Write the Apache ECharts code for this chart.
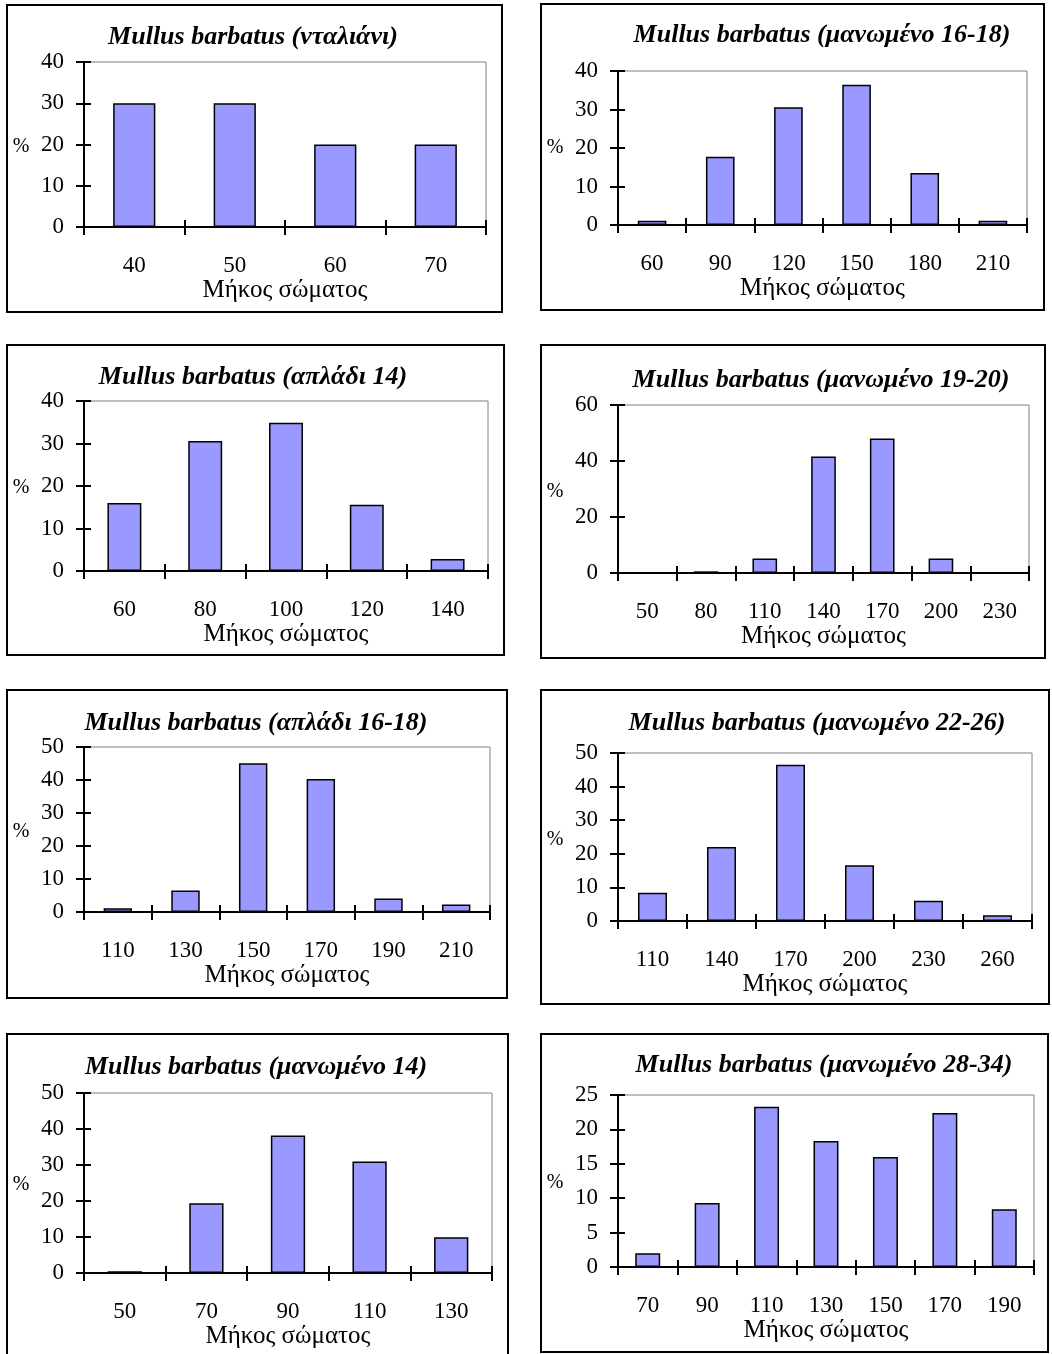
<!DOCTYPE html>
<html><head><meta charset="utf-8">
<script src="https://cdn.jsdelivr.net/npm/echarts@6/dist/echarts.min.js"></script>
<style>html,body{margin:0;padding:0;background:#fff}#c{width:1052px;height:1354px}</style>
</head><body><div id="c"></div>
<script>
// ---- data ----
const titles = [
  'Mullus barbatus (νταλιάνι)',
  'Mullus barbatus (μανωμένο 16-18)',
  'Mullus barbatus (απλάδι 14)',
  'Mullus barbatus (μανωμένο 19-20)',
  'Mullus barbatus (απλάδι 16-18)',
  'Mullus barbatus (μανωμένο 22-26)',
  'Mullus barbatus (μανωμένο 14)',
  'Mullus barbatus (μανωμένο 28-34)'
];
const xName = 'Μήκος σώματος';
const yName = '%';

const cats1 = ['40','50','60','70'];
const vals1 = [30, 30, 20, 20];
const cats2 = ['60','90','120','150','180','210'];
const vals2 = [1.1, 17.7, 30.6, 36.4, 13.5, 1.1];
const cats3 = ['60','80','100','120','140'];
const vals3 = [16.0, 30.6, 34.9, 15.6, 2.8];
const cats4 = ['50','80','110','140','170','200','230'];
const vals4 = [0, 0.6, 5.2, 41.6, 48.0, 5.2, 0];
const cats5 = ['110','130','150','170','190','210'];
const vals5 = [1.1, 6.5, 45.1, 40.3, 4.1, 2.3];
const cats6 = ['110','140','170','200','230','260'];
const vals6 = [8.4, 22.0, 46.5, 16.6, 6.0, 1.7];
const cats7 = ['50','70','90','110','130'];
const vals7 = [0.5, 19.4, 38.2, 31.0, 9.9];
const cats8 = ['70','90','110','130','150','170','190'];
const vals8 = [2.0, 9.3, 23.3, 18.3, 16.0, 22.4, 8.4];

const yMaxes = [40, 40, 40, 60, 50, 50, 50, 25];
const yIntervals = [10, 10, 10, 20, 10, 10, 10, 5];

// ---- layout (positions / sizes) ----
const cats = [cats1,cats2,cats3,cats4,cats5,cats6,cats7,cats8];
const vals = [vals1,vals2,vals3,vals4,vals5,vals6,vals7,vals8];
const grids = [
  {left:84, top:62, width:402, height:165},
  {left:618, top:71, width:409, height:154},
  {left:84, top:401, width:404, height:170},
  {left:618, top:405, width:411, height:168},
  {left:84, top:747, width:406, height:165},
  {left:618, top:753, width:414, height:168},
  {left:84, top:1093, width:408, height:180},
  {left:618, top:1095, width:416, height:172}
];
const boxes = [
  [7,5,502,312],[541,4,1044,310],
  [7,345,504,655],[541,345,1045,658],
  [7,690,507,998],[541,690,1049,1004],
  [7,1034,508,1362],[541,1034,1048,1352]
];
const titlePos = [[253,37],[822,35],[253,377],[821,380],[256,723],[817,723],[256,1067],[824,1065]];
const pctPos = [[21,147],[555,148],[21,488],[555,492],[21,832],[555,840],[21,1185],[555,1183]];

const FONT = '"Liberation Serif", "DejaVu Serif", serif';
const option = {
  animation: false,
  backgroundColor: '#fff',
  grid: [], xAxis: [], yAxis: [], series: [], graphic: []
};

for (let i = 0; i < 8; i++) {
  const g = grids[i];
  option.grid.push(Object.assign({
    show: true, borderColor: '#808080', borderWidth: 1, backgroundColor: 'transparent',
    containLabel: false, outerBoundsMode: 'none'
  }, g));
  option.xAxis.push({
    type: 'category', gridIndex: i, data: cats[i], position: 'bottom',
    boundaryGap: true,
    axisLine: {show: true, onZero: false, lineStyle: {color: '#000', width: 2}},
    axisTick: {show: true, inside: false, length: 8, alignWithLabel: false, lineStyle: {color: '#000', width: 2}},
    axisLabel: {show: true, margin: 27, color: '#000', fontFamily: FONT, fontSize: 23, interval: 0},
    splitLine: {show: false},
    name: xName, nameLocation: 'middle', nameGap: 49,
    nameTextStyle: {color: '#000', fontFamily: FONT, fontSize: 25}
  });
  option.xAxis.push({
    type: 'category', gridIndex: i, data: cats[i], position: 'bottom',
    boundaryGap: true,
    axisLine: {show: false, onZero: false},
    axisTick: {show: true, inside: true, length: 7, alignWithLabel: false, lineStyle: {color: '#000', width: 2}},
    axisLabel: {show: false}, splitLine: {show: false}
  });
  option.yAxis.push({
    type: 'value', gridIndex: i, min: 0, max: yMaxes[i], interval: yIntervals[i], position: 'left',
    axisLine: {show: true, onZero: false, lineStyle: {color: '#000', width: 2}},
    axisTick: {show: true, inside: false, length: 8, lineStyle: {color: '#000', width: 2}},
    axisLabel: {show: true, margin: 20, color: '#000', fontFamily: FONT, fontSize: 23},
    splitLine: {show: false}
  });
  option.yAxis.push({
    type: 'value', gridIndex: i, min: 0, max: yMaxes[i], interval: yIntervals[i], position: 'left',
    axisLine: {show: false},
    axisTick: {show: true, inside: true, length: 7, lineStyle: {color: '#000', width: 2}},
    axisLabel: {show: false}, splitLine: {show: false}
  });
  option.series.push({
    type: 'bar', xAxisIndex: 2*i, yAxisIndex: 2*i, data: vals[i],
    barWidth: '42%',
    itemStyle: {color: '#9999FF', borderColor: '#000', borderWidth: 1.5},
    z: 1
  });
  const b = boxes[i];
  option.graphic.push({
    type: 'rect', silent: true, z: -1,
    shape: {x: b[0], y: b[1], width: b[2]-b[0], height: b[3]-b[1]},
    style: {fill: 'none', stroke: '#000', lineWidth: 2}
  });
  option.graphic.push({
    type: 'text', silent: true,
    x: titlePos[i][0], y: titlePos[i][1],
    style: {text: titles[i], fill: '#000', font: 'italic bold 26px ' + FONT, textAlign: 'center', textVerticalAlign: 'middle'}
  });
  option.graphic.push({
    type: 'text', silent: true,
    x: pctPos[i][0], y: pctPos[i][1],
    style: {text: yName, fill: '#000', font: '20px ' + FONT, textAlign: 'center', textVerticalAlign: 'middle'}
  });
}

const chart = echarts.init(document.getElementById('c'), null, {renderer: 'canvas'});
chart.setOption(option);
</script>
</body></html>
